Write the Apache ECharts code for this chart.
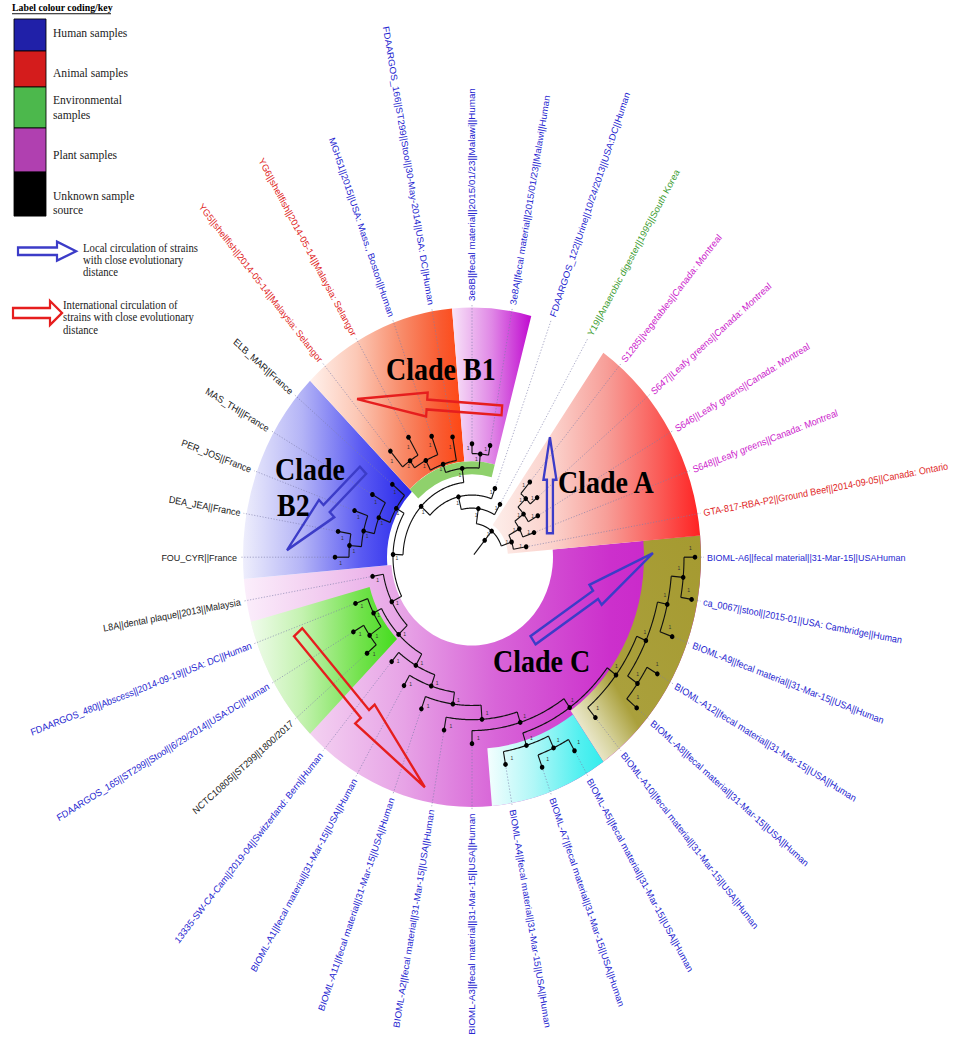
<!DOCTYPE html>
<html>
<head>
<meta charset="utf-8">
<script src="https://cdn.jsdelivr.net/npm/echarts@6/dist/echarts.min.js"></script>
<style>
html,body{margin:0;padding:0;background:#fff;width:954px;height:1049px;}
#wrap{width:954px;height:1049px;position:relative;}
#main{position:absolute;left:0;top:0;width:954px;height:962px;transform:scaleY(1.0904);transform-origin:0 0;}
</style>
</head>
<body>
<div id="wrap"><div id="main"></div></div>
<script>
// ================= DATA =================
// leaves in clockwise order starting at the top
const leafNames = [
  '3e8B||fecal material||2015/01/23||Malawi||Human',
  '3e8A||fecal material||2015/01/23||Malawi||Human',
  'FDAARGOS_122||Urine||10/24/2013||USA:DC||Human',
  'Y19||Anaerobic digester||1995||South Korea',
  'S1285||vegetables||Canada: Montreal',
  'S647||Leafy greens||Canada: Montreal',
  'S646||Leafy greens||Canada: Montreal',
  'S648||Leafy greens||Canada: Montreal',
  'GTA-817-RBA-P2||Ground Beef||2014-09-05||Canada: Ontario',
  'BIOML-A6||fecal material||31-Mar-15||USAHuman',
  'ca_0067||stool||2015-01||USA: Cambridge||Human',
  'BIOML-A9||fecal material||31-Mar-15||USA||Human',
  'BIOML-A12||fecal material||31-Mar-15||USA||Human',
  'BIOML-A8||fecal material||31-Mar-15||USA||Human',
  'BIOML-A10||fecal material||31-Mar-15||USA||Human',
  'BIOML-A5||fecal material||31-Mar-15||USA||Human',
  'BIOML-A7||fecal material||31-Mar-15||USA||Human',
  'BIOML-A4||fecal material||31-Mar-15||USA||Human',
  'BIOML-A3||fecal material||31-Mar-15||USA||Human',
  'BIOML-A2||fecal material||31-Mar-15||USA||Human',
  'BIOML-A11||fecal material||31-Mar-15||USA||Human',
  'BIOML-A1||fecal material||31-Mar-15||USA||Human',
  '13335-SW-C4-Cam||2019-04||Switzerland: Bern||Human',
  'NCTC10805||ST299||1800/2017',
  'FDAARGOS_165||ST299||Stool||6/29/2014||USA:DC||Human',
  'FDAARGOS_480||Abscess||2014-09-19||USA: DC||Human',
  'L8A||dental plaque||2013||Malaysia',
  'FOU_CYR||France',
  'DEA_JEA||France',
  'PER_JOS||France',
  'MAS_THI||France',
  'ELB_MAR||France',
  'YG5||shellfish||2014-05-14||Malaysia: Selangor',
  'YG6||shellfish||2014-05-14||Malaysia: Selangor',
  'MGH51||2015||USA: Mass., Boston||Human',
  'FDAARGOS_166||ST299||Stool||30-May-2014||USA: DC||Human'
];
const leafSources = [
  'human','human','human','environmental','plant','plant','plant','plant','animal',
  'human','human','human','human','human','human','human','human','human','human','human','human','human','human',
  'unknown','human','human','unknown','unknown','unknown','unknown','unknown','unknown',
  'animal','animal','human','human'
];
// distance of each leaf tip from the root (tree units)
const leafTipRadius = [104,104,67,56,90,85,76,66,55,223,223,213,214,215,192,205,205,193,171,161,148,136,125,137,137,124,101,137,136,125,115,104,127,127,118,112];
// bootstrap support of the branch leading to each leaf
const leafSupport = [1,1,1,1,1,1,1,1,1,1,1,1,1,1,1,1,1,1,1,1,1,1,1,1,1,1,1,1,1,1,1,1,1,1,1,1];
// internal nodes: [id, distance from root, children (leaf index or node id), support]
const treeNodes = [
  ['root',20,['N31'],null],
  ['N31',31,['N45','A1'],1],
  ['N45',45,['N57',3],1],
  ['N57',57,['BCB1',2],1],
  ['BCB1',69,['BC','B1'],1],
  ['BC',79,['C9','B2'],1],
  ['B1',82,['B1o','B1m'],1],
  ['B1o',90,['B1o2',35],1],
  ['B1o2',100,['B1o3',34],1],
  ['B1o3',108,[32,33],1],
  ['B1m',95,[0,1],1],
  ['B2',88,['B2a',31],1],
  ['B2a',100,['B2b',30],1],
  ['B2b',111,['B2c',29],1],
  ['B2c',123,[27,28],1],
  ['C9',90,['C8',26],1],
  ['C8',102,['C7','G1'],1],
  ['G1',111,['G2',25],1],
  ['G2',125,[23,24],1],
  ['C7',114,['C6',22],1],
  ['C6',125,['C5',21],1],
  ['C5',136,['C4',20],1],
  ['C4',149,['C3',19],1],
  ['C3',159,['OC',18],1],
  ['OC',169,['OL','CY'],1],
  ['CY',181,['CY2',17],1],
  ['CY2',193,[15,16],1],
  ['OL',180,['OL1',14],1],
  ['OL1',190,['OL2','OL3'],1],
  ['OL2',200,['OL4',11],1],
  ['OL4',212,[9,10],1],
  ['OL3',202,[12,13],1],
  ['A1',42,['A2',8],1],
  ['A2',54,['A3',7],1],
  ['A3',65,['A4',6],1],
  ['A4',76,[4,5],1]
];
// highlighted clade sectors: [name, first leaf, last leaf]
const cladeRanges = [
  ['Clade C',9,26],
  ['Clade C olive',9,14],
  ['Clade C cyan',15,17],
  ['Clade C green',23,25],
  ['Clade A',4,8],
  ['Clade B2',27,31],
  ['Clade B1 orange',32,35],
  ['Clade B1 magenta',0,1],
  ['Clade B1 base',32,1]
];
const legendKeys = ['human','animal','environmental','plant','unknown'];
const legendLabels = [['Human samples'],['Animal samples'],['Environmental','samples'],['Plant samples'],['Unknown sample','source']];
const arrowLegendLabels = [
  ['Local circulation of strains','with close evolutionary','distance'],
  ['International circulation of','strains with close evolutionary','distance']
];

// ================= STYLE / LAYOUT =================
const N = leafNames.length;
const WRAP_START = 9;
const LABEL_R = 235, LEADER_END = 232;
const sourceColors = {human:'#2626d0', animal:'#e01e1e', environmental:'#3c9c30', plant:'#cc22cc', unknown:'#1a1a1a'};
const legendColors = {human:'#2020a8', animal:'#d41c1c', environmental:'#4cb84c', plant:'#b040b0', unknown:'#000000'};
const G = (x0,y0,x1,y1,stops)=>new echarts.graphic.LinearGradient(x0,y0,x1,y1,stops.map(s=>({offset:s[0],color:s[1]})));
const sectorStyle = {
  'Clade C': {r0:81, r:229, fill:G(0,0,1,0,[[0,'#fbeefb'],[0.15,'#f3d0f1'],[0.35,'#e7a3e6'],[0.55,'#d865d8'],[0.8,'#cc30cc'],[1,'#c820c8']])},
  'Clade C olive': {r0:172, r:229, fill:G(1,0,0,1,[[0,'#a59a30'],[0.66,'#aaa03c'],[0.8,'#d6d29c'],[0.92,'#f2f0de'],[1,'#f8f7ec']])},
  'Clade C cyan': {r0:176, r:229, fill:G(0,0,1,0,[[0,'#f4fefe'],[0.4,'#b0f7f7'],[0.8,'#52f0f0'],[1,'#34ecec']])},
  'Clade C green': {r0:106, r:229, fill:G(0,0,1,0,[[0,'#f0fcec'],[0.35,'#c4f2b0'],[0.75,'#72e24c'],[1,'#44dc1e']])},
  'Clade A': {r0:36, r:229, fill:G(0,0,1,0,[[0,'#fdeeea'],[0.3,'#fbd0ca'],[0.55,'#f79e98'],[0.8,'#fa5c58'],[1,'#ff2222']])},
  'Clade B2': {r0:85, r:229, fill:G(0,0,1,0,[[0,'#eeeefc'],[0.35,'#b4b4f6'],[0.7,'#5a5af2'],[1,'#2626ea']])},
  'Clade B1 orange': {r0:88, r:229, fill:G(0,0,1,0,[[0,'#fff1ec'],[0.3,'#fcc8b6'],[0.6,'#f88a68'],[0.85,'#f95a30'],[1,'#ff4510']])},
  'Clade B1 magenta': {r0:88, r:229, fill:G(0,0,1,0,[[0,'#f8e4f8'],[0.5,'#e088e6'],[1,'#c00ad0']])},
  'Clade B1 base': {r0:76, r:88, fill:'#8fd16c'}
};
const arrowAnnotations = [
  {tail:[138,1.25], tip:[185,32.16], color:'#e61e1e', head:70, headHalf:11, shaftHalf:4.5},
  {tail:[81,7.42], tip:[134.8,3.53], color:'#3c3cc8', head:39, headHalf:6.5, shaftHalf:3},
  {tail:[135,30.62], tip:[185.1,27.2], color:'#3c3cc8', head:55, headHalf:11, shaftHalf:4.5},
  {tail:[97.6,14.13], tip:[181,8.88], color:'#3c3cc8', head:69, headHalf:11, shaftHalf:4.5},
  {tail:[187,24.84], tip:[216.2,19.26], color:'#e61e1e', head:90, headHalf:13, shaftHalf:5.5}
];

// ================= TREE GEOMETRY (from data) =================
function leafPos(i){ return i < WRAP_START ? i + N : i; }
const nodeMap = {};
treeNodes.forEach(([id,r,ch,s]) => { nodeMap[id] = {id, r, ch, s}; });
function posOf(key){
  if (typeof key === 'number') return leafPos(key);
  const n = nodeMap[key];
  if (n.pos === undefined){ const ps = n.ch.map(posOf); n.pos = (Math.min(...ps)+Math.max(...ps))/2; }
  return n.pos;
}
function radOf(key){ return typeof key === 'number' ? leafTipRadius[key] : nodeMap[key].r; }
function supOf(key){ return typeof key === 'number' ? leafSupport[key] : nodeMap[key].s; }
const branches = [];
function addBranch(key, parentR){
  const isLeaf = typeof key === 'number';
  const b = {key, r: radOf(key), pos: posOf(key), parentR, isLeaf, support: supOf(key)};
  if (!isLeaf){
    const ps = nodeMap[key].ch.map(posOf);
    b.arc = [Math.min(...ps), Math.max(...ps)];
    nodeMap[key].ch.forEach(c => addBranch(c, b.r));
  }
  branches.push(b);
}
addBranch(treeNodes[0][0], 3);

function wrapA(v){ return ((v + 0.5) % N + N) % N - 0.5; }
function pt(api, r, v){ return api.coord([r, wrapA(v)]); }

function arrowPoints(T, P, hl, hw, sw){
  const dx=P[0]-T[0], dy=P[1]-T[1], L=Math.hypot(dx,dy);
  const ux=dx/L, uy=dy/L, nx=-uy, ny=ux;
  const B=[P[0]-ux*hl, P[1]-uy*hl];
  return [[T[0]+nx*sw,T[1]+ny*sw],[B[0]+nx*sw,B[1]+ny*sw],[B[0]+nx*hw,B[1]+ny*hw],[P[0],P[1]],
          [B[0]-nx*hw,B[1]-ny*hw],[B[0]-nx*sw,B[1]-ny*sw],[T[0]-nx*sw,T[1]-ny*sw]];
}

// ================= RENDERERS =================
function renderSector(params, api){
  const [name,f,l] = cladeRanges[params.dataIndex];
  const st = sectorStyle[name];
  const v0 = leafPos(f) - 0.5, v1 = leafPos(l) + 0.5;
  const c = api.coord([0, 0]);
  const ang = v => { const p = pt(api, 100, v); return Math.atan2(p[1]-c[1], p[0]-c[0]); };
  let step = ang(1) - ang(0);
  while (step <= -Math.PI) step += 2*Math.PI;
  while (step > Math.PI) step -= 2*Math.PI;
  const a0 = ang(v0), a1 = a0 + (v1 - v0)*step;
  const rPx = r => { const p = api.coord([r, 0]); return Math.hypot(p[0]-c[0], p[1]-c[1]); };
  return {type:'sector', shape:{cx:c[0], cy:c[1], r0:rPx(st.r0), r:rPx(st.r), startAngle:Math.min(a0,a1), endAngle:Math.max(a0,a1), clockwise:true},
          style:{fill:st.fill, stroke:null}};
}
function renderLeader(params, api){
  const i = params.dataIndex, v = leafPos(i);
  const p0 = pt(api, leafTipRadius[i], v), p1 = pt(api, LEADER_END, v);
  return {type:'line', shape:{x1:p0[0],y1:p0[1],x2:p1[0],y2:p1[1]}, style:{stroke:'#7c7ca8', lineWidth:0.6, lineDash:[1.2,1.6], fill:'none'}};
}
function renderBranch(params, api){
  const b = branches[params.dataIndex];
  const style = {stroke:'#111', lineWidth:1.1, fill:'none'};
  const children = [];
  const p0 = pt(api, b.parentR, b.pos), p1 = pt(api, b.r, b.pos);
  children.push({type:'line', shape:{x1:p0[0],y1:p0[1],x2:p1[0],y2:p1[1]}, style});
  if (b.arc && b.arc[1] - b.arc[0] > 1e-6){
    const pts = [];
    for (let v = b.arc[0]; v < b.arc[1]; v += 0.05) pts.push(pt(api, b.r, v));
    pts.push(pt(api, b.r, b.arc[1]));
    children.push({type:'polyline', shape:{points:pts}, style});
  }
  children.push({type:'circle', shape:{cx:p1[0], cy:p1[1], r:2.3}, style:{fill:'#000', stroke:null}});
  if (b.support != null){
    const pm = pt(api, b.parentR + (b.r - b.parentR)*0.6, b.pos - 0.22);
    children.push({type:'text', x:pm[0], y:pm[1],
      style:{text:String(b.support), fill:'#333', font:'5px "Liberation Sans", Arial, sans-serif',
             align:'center', verticalAlign:'middle', textAlign:'center', textVerticalAlign:'middle'}});
  }
  return {type:'group', children};
}
function renderLabel(params, api){
  const i = params.dataIndex, v = leafPos(i);
  const c = pt(api, 0, v), p = pt(api, LABEL_R, v);
  const phi = Math.atan2(p[1]-c[1], p[0]-c[0]);
  const right = wrapA(v) < N/2;
  const align = right ? 'left' : 'right';
  return {type:'text', x:p[0], y:p[1], rotation: right ? -phi : -(phi + Math.PI),
          style:{text:leafNames[i], fill:sourceColors[leafSources[i]], font:'9px "Liberation Sans", Arial, sans-serif',
                 align, verticalAlign:'middle', textAlign:align, textVerticalAlign:'middle'}};
}
function renderArrow(params, api){
  const a = arrowAnnotations[params.dataIndex];
  const T = pt(api, a.tail[0], a.tail[1]), P = pt(api, a.tip[0], a.tip[1]);
  return {type:'polygon', shape:{points:arrowPoints(T, P, a.head, a.headHalf, a.shaftHalf)},
          style:{fill:'none', stroke:a.color, lineWidth:2.3, lineJoin:'miter'}};
}

// ================= GRAPHIC (legend + clade titles) =================
const gEls = [];
const serif = '"Liberation Serif", "Times New Roman", serif';
function txt(x, y, s, font, fill, align){
  gEls.push({type:'text', x, y, z:100, silent:true,
    style:{text:s, font, fill:fill||'#111', align:align||'left', verticalAlign:'middle', textAlign:align||'left', textVerticalAlign:'middle'}});
}
txt(12, 7, 'Label colour coding/key', 'bold 9.8px ' + serif, '#000');
gEls.push({type:'line', z:100, shape:{x1:12, y1:12.6, x2:111, y2:12.6}, style:{stroke:'#000', lineWidth:0.9}});
const boxEdges = [17.4, 46.8, 79.8, 117.4, 157.8, 198.2];
const legendTextY = [[29.7],[66.7],[91.7,104.9],[142.2],[179.5,192]];
legendKeys.forEach((k, i) => {
  gEls.push({type:'rect', z:100, shape:{x:14, y:boxEdges[i], width:32, height:boxEdges[i+1]-boxEdges[i]},
             style:{fill:legendColors[k], stroke:'#000', lineWidth:0.8}});
  legendLabels[i].forEach((s, j) => txt(53, legendTextY[i][j], s, '11.6px ' + serif, '#222'));
});
gEls.push({type:'polygon', z:100, shape:{points:arrowPoints([18,230.4],[76,230.4],19,8.7,3.4)}, style:{fill:'none', stroke:'#3c3cc8', lineWidth:2.2}});
gEls.push({type:'polygon', z:100, shape:{points:arrowPoints([13,287],[62,287],12,11,4.6)}, style:{fill:'none', stroke:'#e61e1e', lineWidth:2.2}});
[[83,[227.5,238.3,248.9]],[63,[280,291,302.8]]].forEach(([x, ys], k) => {
  arrowLegendLabels[k].forEach((s, j) => txt(x, ys[j], s, '10.7px ' + serif, '#222'));
});
const cladeFont = 'bold 28px ' + serif;
txt(386, 339, 'Clade B1', cladeFont, '#000');
txt(558, 443, 'Clade A', cladeFont, '#000');
txt(275, 431, 'Clade', cladeFont, '#000');
txt(277, 464, 'B2', cladeFont, '#000');
txt(493, 607, 'Clade C', cladeFont, '#000');

// ================= CHART =================
const chart = echarts.init(document.getElementById('main'), null, {renderer:'svg'});
const common = {type:'custom', coordinateSystem:'polar', silent:true, animation:false, encode:{radius:0, angle:1}};
chart.setOption({
  animation:false,
  backgroundColor:'#ffffff',
  polar:{center:[472,511], radius:240},
  angleAxis:{type:'value', min:-0.5, max:35.5, startAngle:95, clockwise:true, show:false, splitLine:{show:false}},
  radiusAxis:{type:'value', min:0, max:240, show:false, splitLine:{show:false}},
  graphic:{elements:gEls},
  series:[
    Object.assign({}, common, {name:'sectors', z:1, renderItem:renderSector, data:cladeRanges.map(c => [229, wrapA(leafPos(c[1]))])}),
    Object.assign({}, common, {name:'leaders', z:2, renderItem:renderLeader, data:leafTipRadius.map((r,i) => [r, wrapA(leafPos(i))])}),
    Object.assign({}, common, {name:'tree', z:3, renderItem:renderBranch, data:branches.map(b => [b.r, wrapA(b.pos)])}),
    Object.assign({}, common, {name:'labels', z:4, renderItem:renderLabel, data:leafTipRadius.map((r,i) => [LABEL_R, wrapA(leafPos(i))])}),
    Object.assign({}, common, {name:'arrows', z:5, renderItem:renderArrow, data:arrowAnnotations.map(a => [a.tip[0], a.tip[1]])})
  ]
});
</script>
</body>
</html>
